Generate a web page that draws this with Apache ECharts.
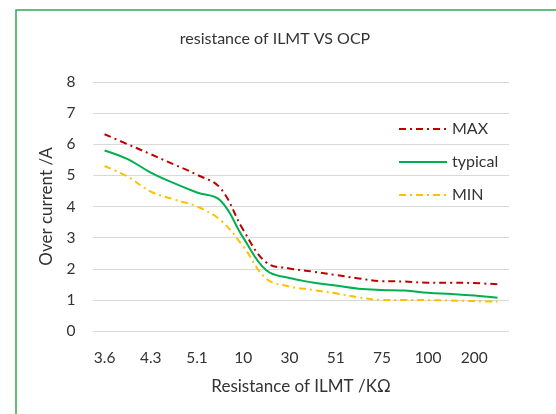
<!DOCTYPE html>
<html>
<head>
<meta charset="utf-8">
<script src="https://cdn.jsdelivr.net/npm/echarts@6/dist/echarts.min.js"></script>
<style>html,body{margin:0;padding:0;background:#fff;}#c{width:556px;height:414px;}</style>
</head>
<body>
<div id="c"></div>
<script>
const categories = ['3.6','3.9','4.3','4.7','5.1','7.5','10','20','30','43','51','62','75','91','100','150','200','300'];
const maxValues = [6.32, 6.0, 5.68, 5.35, 5.02, 4.6, 3.25, 2.2, 2.01, 1.91, 1.8, 1.69, 1.6, 1.59, 1.55, 1.55, 1.54, 1.5];
const typicalValues = [5.8, 5.52, 5.09, 4.75, 4.45, 4.2, 3.0, 1.95, 1.7, 1.56, 1.46, 1.36, 1.32, 1.3, 1.23, 1.19, 1.14, 1.07];
const minValues = [5.3, 4.96, 4.48, 4.23, 4.0, 3.57, 2.72, 1.68, 1.43, 1.32, 1.21, 1.08, 1.0, 1.0, 0.99, 0.98, 0.96, 0.94];
const yTicks = [0, 1, 2, 3, 4, 5, 6, 7, 8];

const FONT = 'Lato, "Open Sans", sans-serif';
const chart = echarts.init(document.getElementById('c'), null, {renderer: 'canvas'});
chart.setOption({
  animation: false,
  backgroundColor: '#fff',
  graphic: [{
    type: 'rect', left: 13.5, top: 7.5,
    shape: {x: 0, y: 0, width: 560, height: 420},
    style: {fill: 'none', stroke: '#2eaa52', lineWidth: 1.5}
  }],
  title: {
    text: 'resistance of ILMT VS OCP',
    left: 270, textAlign: 'center', top: 26,
    textStyle: {fontFamily: FONT, fontSize: 16, fontWeight: 'normal', color: '#333333'}
  },
  legend: {
    orient: 'vertical', left: 393, top: 116, itemWidth: 48, itemHeight: 14, itemGap: 17,
    itemStyle: {color: 'rgba(0,0,0,0)', borderWidth: 0},
    textStyle: {fontFamily: FONT, fontSize: 16, color: '#333333'},
    data: ['MAX', 'typical', 'MIN']
  },
  grid: {left: 93, right: 47, top: 82, bottom: 83, containLabel: false},
  xAxis: {
    type: 'category', data: categories, boundaryGap: true,
    name: 'Resistance of ILMT /KΩ', nameLocation: 'middle', nameGap: 47,
    nameTextStyle: {fontFamily: FONT, fontSize: 17, color: '#333333'},
    axisLine: {show: false}, axisTick: {show: false},
    axisLabel: {interval: 1, fontFamily: FONT, fontSize: 15.5, color: '#333333', margin: 19}
  },
  yAxis: {
    type: 'value', min: yTicks[0], max: yTicks[yTicks.length-1], interval: 1,
    name: 'Over current /A', nameLocation: 'middle', nameGap: 38, nameRotate: 90,
    nameTextStyle: {fontFamily: FONT, fontSize: 17, color: '#333333'},
    axisLine: {show: false}, axisTick: {show: false},
    axisLabel: {fontFamily: FONT, fontSize: 15.5, color: '#333333', margin: 22, align: 'center'},
    splitLine: {lineStyle: {color: '#d9d9d9', width: 1}}
  },
  series: [
    {name: 'MAX', type: 'line', data: maxValues, symbol: 'none', smooth: 0.4,
     itemStyle: {color: '#c00000'},
     lineStyle: {color: '#c00000', width: 2, type: [7, 4, 2, 4]}},
    {name: 'typical', type: 'line', data: typicalValues, symbol: 'none', smooth: 0.4,
     itemStyle: {color: '#00b050'},
     lineStyle: {color: '#00b050', width: 2}},
    {name: 'MIN', type: 'line', data: minValues, symbol: 'none', smooth: 0.4,
     itemStyle: {color: '#ffc000'},
     lineStyle: {color: '#ffc000', width: 2, type: [7, 4, 2, 4]}}
  ]
});
</script>
</body>
</html>
